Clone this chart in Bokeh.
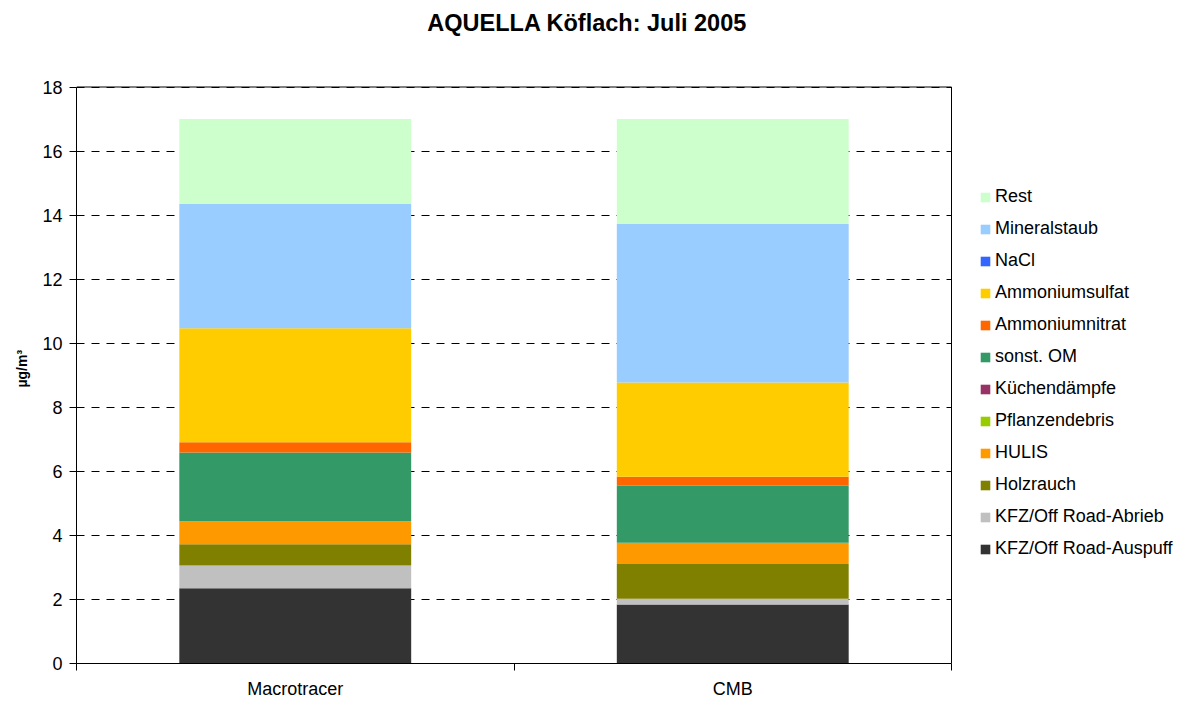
from bokeh.plotting import figure
from bokeh.models import (Range1d, FixedTicker, Legend, LegendItem, Label, BoxAnnotation,
                          Title, ColumnDataSource)
from bokeh.embed import file_html
from bokeh.resources import INLINE

title_text = "AQUELLA Köflach:  Juli 2005"
y_label = "µg/m³"
categories = ["Macrotracer", "CMB"]

# stacking order, bottom to top
components = ["KFZ/Off Road-Auspuff", "KFZ/Off Road-Abrieb", "Holzrauch", "HULIS",
              "Pflanzendebris", "Küchendämpfe", "sonst. OM", "Ammoniumnitrat",
              "Ammoniumsulfat", "NaCl", "Mineralstaub", "Rest"]
auspuff = [2.35, 1.84]
abrieb = [0.71, 0.18]
holzrauch = [0.66, 1.09]
hulis = [0.72, 0.66]
pflanzendebris = [0.0, 0.0]
kuechendaempfe = [0.0, 0.0]
sonst_om = [2.15, 1.78]
ammoniumnitrat = [0.32, 0.28]
ammoniumsulfat = [3.56, 2.94]
nacl = [0.0, 0.0]
mineralstaub = [3.88, 4.95]
rest = [2.65, 3.28]
colors = ["#333333", "#C0C0C0", "#808000", "#FF9900", "#99CC00", "#993366",
          "#339966", "#FF6600", "#FFCC00", "#3366FF", "#99CCFF", "#CCFFCC"]
y_ticks = [0, 2, 4, 6, 8, 10, 12, 14, 16, 18]

series = [auspuff, abrieb, holzrauch, hulis, pflanzendebris, kuechendaempfe,
          sonst_om, ammoniumnitrat, ammoniumsulfat, nacl, mineralstaub, rest]

FONT = "Liberation Sans"

# layout (pixels)
W, H = 1187, 701
LEFT, BOTTOM = 76, 38           # borders occupied by the axes
PLOT_W, PLOT_H = 875, 576.5     # size of the visible plot area
n = len(categories)
y_max = y_ticks[-1]
x_end = n * (W - LEFT) / PLOT_W
y_end = y_max * (H - BOTTOM) / PLOT_H

x_pos = [i + 0.5 for i in range(n)]
data = {"x": x_pos}
keys = []
for i, s in enumerate(series):
    k = "s%d" % i
    keys.append(k)
    data[k] = s
source = ColumnDataSource(data)

p = figure(width=W, height=H, output_backend="svg", toolbar_location=None,
           x_range=Range1d(0, x_end), y_range=Range1d(0, y_end),
           min_border_left=LEFT, min_border_right=0, min_border_top=0,
           min_border_bottom=BOTTOM,
           background_fill_color="white", border_fill_color="white")
p.outline_line_color = None

renderers = p.vbar_stack(keys, x="x", width=0.53, color=colors, line_color=None,
                         source=source)

# x axis: category labels at centres, tick marks at category boundaries
xa = p.xaxis[0]
xa.bounds = (0, n)
xa.ticker = FixedTicker(ticks=x_pos, minor_ticks=list(range(n + 1)))
xa.major_label_overrides = {x: c for x, c in zip(x_pos, categories)}
xa.major_tick_line_color = None
xa.major_tick_out = 0
xa.major_tick_in = 0
xa.minor_tick_out = 7
xa.minor_tick_in = 0
xa.minor_tick_line_color = "black"
xa.axis_line_color = "black"
xa.major_label_standoff = 8
xa.major_label_text_font = FONT
xa.major_label_text_font_size = "18px"
xa.major_label_text_color = "black"

ya = p.yaxis[0]
ya.bounds = (0, y_max)
ya.ticker = FixedTicker(ticks=y_ticks)
ya.major_tick_out = 7
ya.major_tick_in = 0
ya.minor_tick_line_color = None
ya.major_tick_line_color = "black"
ya.axis_line_color = "black"
ya.major_label_standoff = 7
ya.major_label_text_font = FONT
ya.major_label_text_font_size = "18px"
ya.major_label_text_color = "black"

# y-axis label as a side title, centred on the visible plot area
ylab = Title(text=y_label, align="left", offset=(H - BOTTOM) - 387,
             vertical_align="top", standoff=16,
             text_font=FONT, text_font_size="14px", text_font_style="bold",
             text_color="black")
p.add_layout(ylab, "left")

p.xgrid.visible = False
p.ygrid.grid_line_color = "black"
p.ygrid.grid_line_dash = "8 7"
p.ygrid.grid_line_width = 1
p.ygrid.bounds = (0, y_max)
p.ygrid.cross_bounds = (0, n)

# plot-area border
p.add_layout(BoxAnnotation(left=0, right=n, bottom=0, top=y_max,
                           fill_alpha=0, line_color="black", line_width=1,
                           line_alpha=1))

# legend
items = [LegendItem(label=c, renderers=[r]) for c, r in zip(components, renderers)][::-1]
legend = Legend(items=items, location=(903, 104), orientation="vertical",
                padding=0, margin=0, border_line_color=None, background_fill_alpha=0,
                glyph_width=12, glyph_height=12, label_standoff=4,
                label_height=20, spacing=11,
                label_text_font=FONT, label_text_font_size="18px",
                label_text_color="black")
p.add_layout(legend, "center")

title = Label(x=590 - LEFT, y=(H - BOTTOM) - 22, x_units="screen", y_units="screen",
              text=title_text, text_font=FONT, text_font_size="23.5px",
              text_font_style="bold", text_align="center", text_baseline="middle",
              text_color="black")
p.add_layout(title)

open("out.html", "w").write(file_html(p, INLINE))
